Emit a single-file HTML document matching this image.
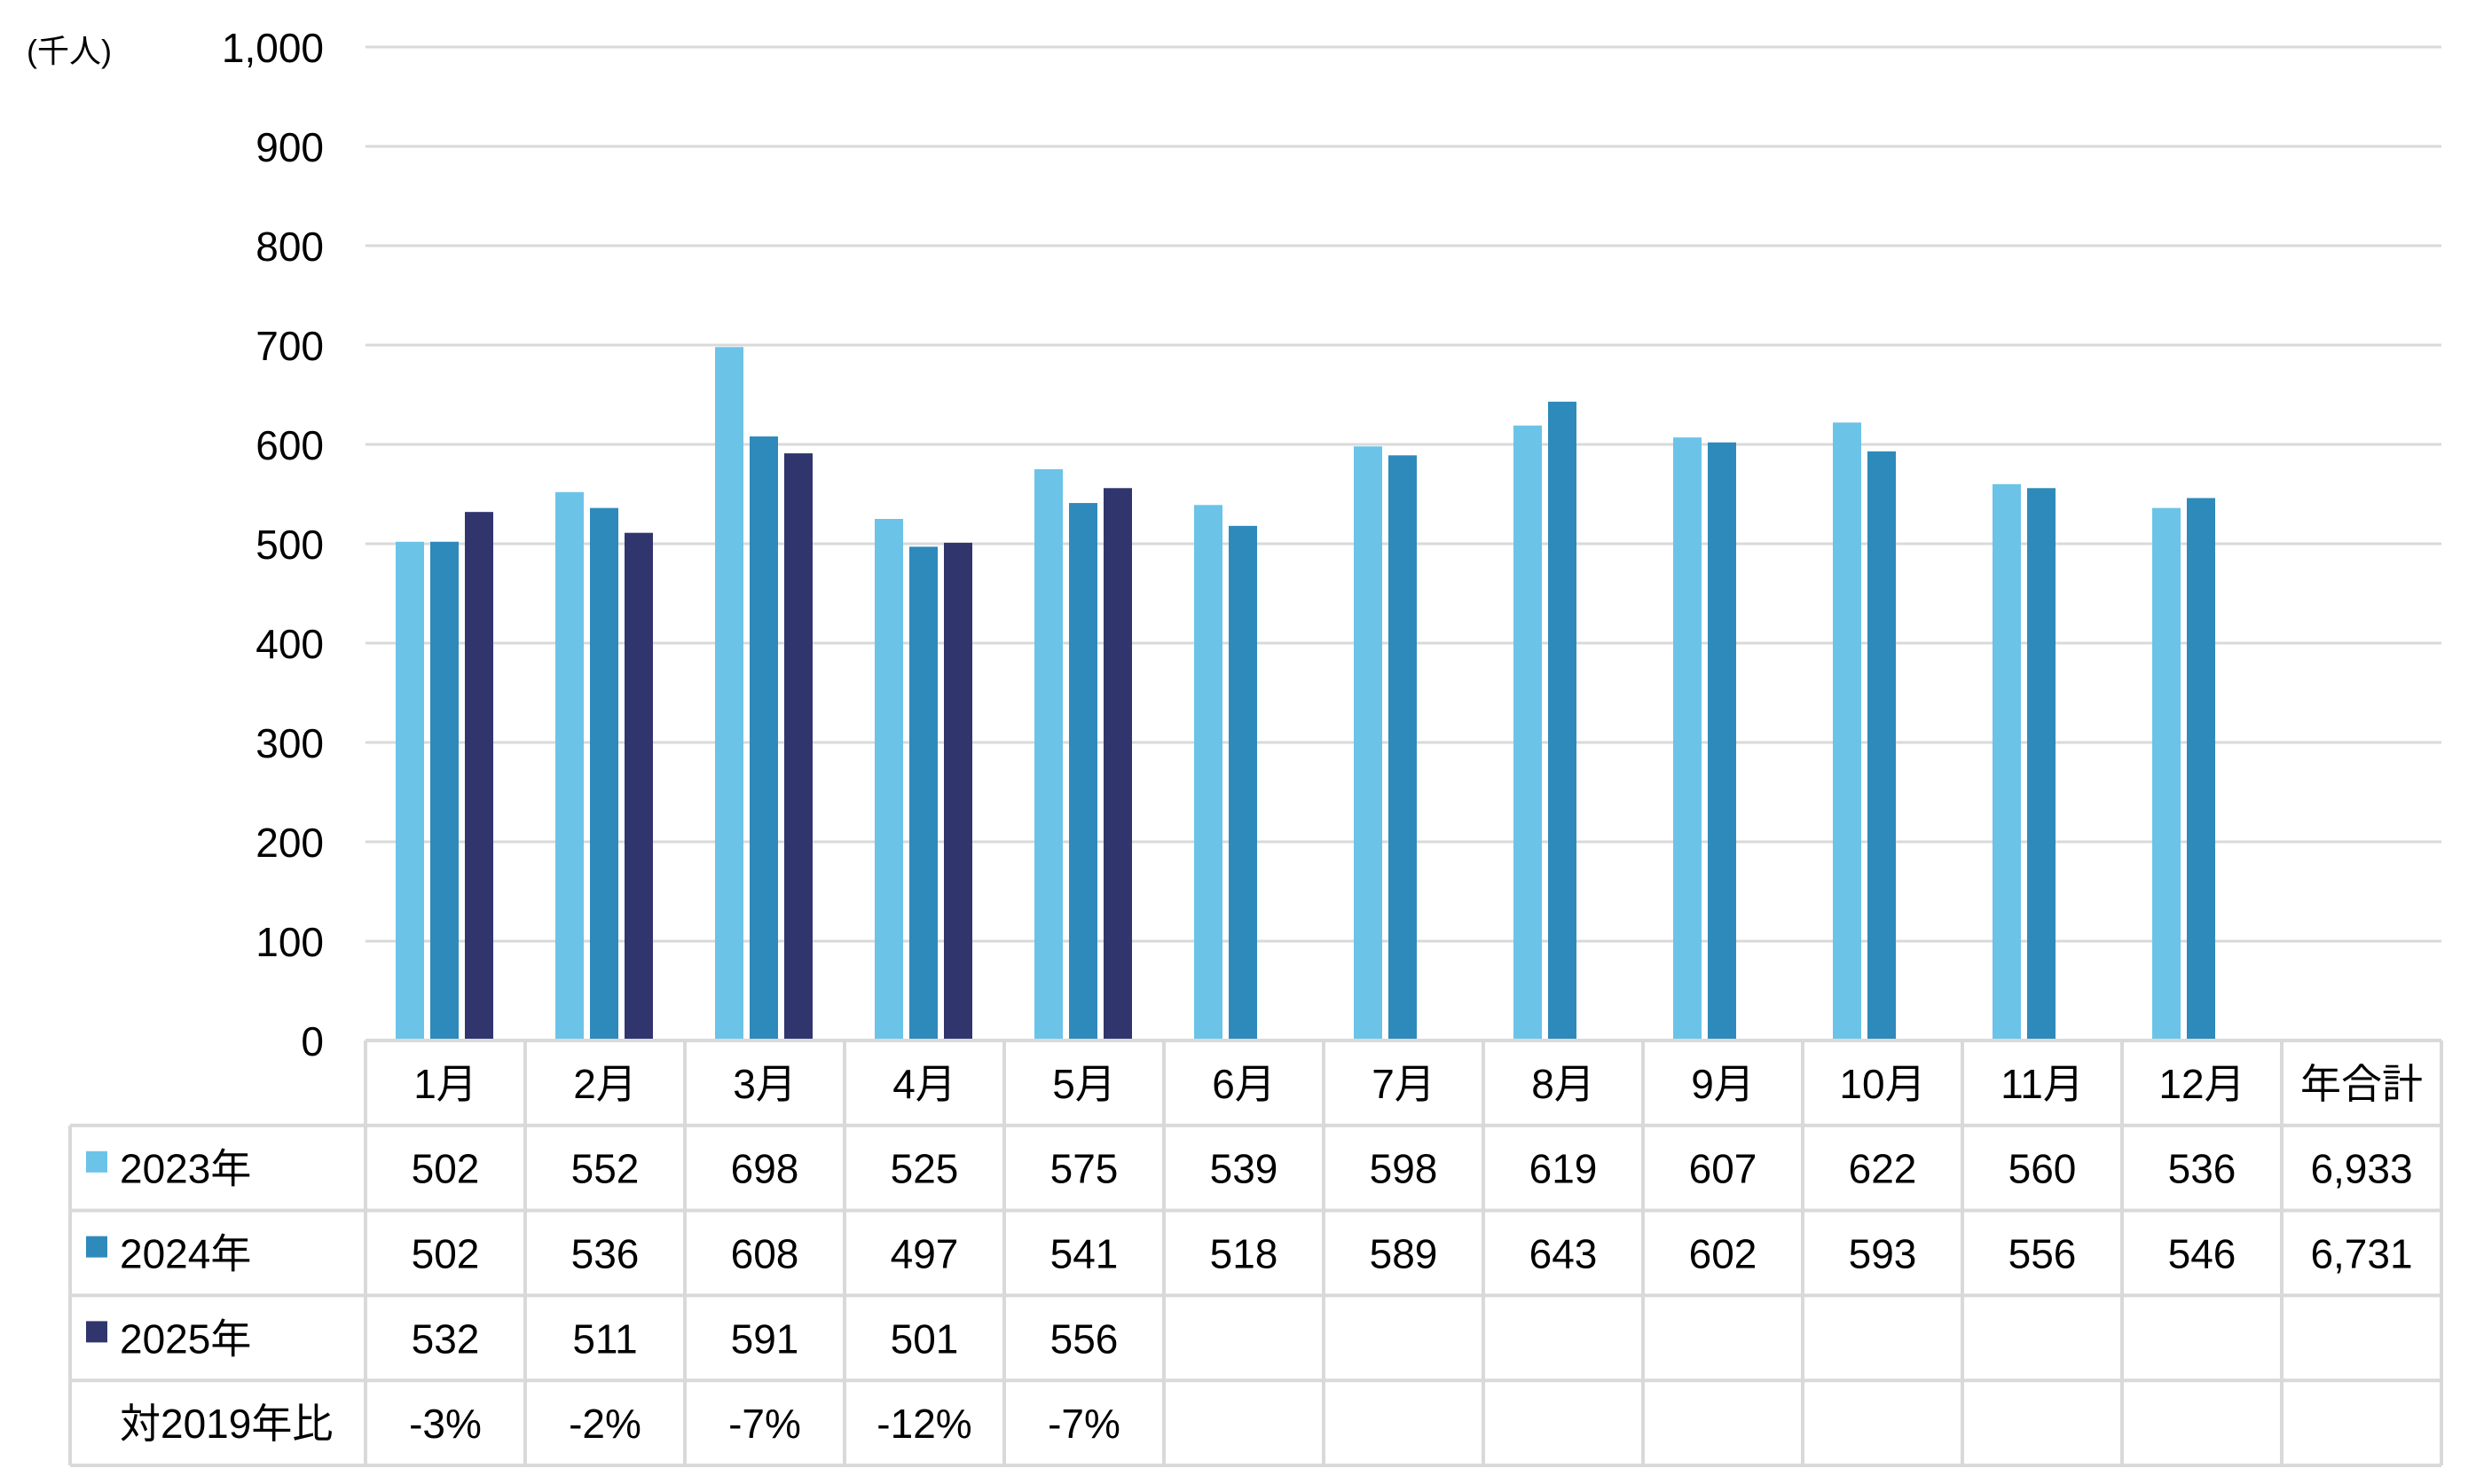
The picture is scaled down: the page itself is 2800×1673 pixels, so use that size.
<!DOCTYPE html>
<html><head><meta charset="utf-8"><style>
html,body{margin:0;padding:0;background:#fff}
svg{display:block}
text{font-family:"Liberation Sans","Noto Sans CJK JP",sans-serif;fill:#000}
</style></head><body>
<svg id="chart" width="2800" height="1673" viewBox="0 0 2800 1673" xmlns="http://www.w3.org/2000/svg">
<g id="grid"></g>
<g id="yticks"></g>
<text x="30" y="70" font-size="36">(千人)</text>
<g id="bars"></g>
<g id="table"></g>
</svg>
<script>
const categories = ["1月","2月","3月","4月","5月","6月","7月","8月","9月","10月","11月","12月"];
const seriesNames = ["2023年","2024年","2025年"];
const s2023 = [502,552,698,525,575,539,598,619,607,622,560,536];
const s2024 = [502,536,608,497,541,518,589,643,602,593,556,546];
const s2025 = [532,511,591,501,556];
const totals2023 = "6,933";
const totals2024 = "6,731";
const ratio2019 = ["-3%","-2%","-7%","-12%","-7%"];
const yTicks = [0,100,200,300,400,500,600,700,800,900,1000];
const totalLabel = "年合計";
const ratioLabel = "対2019年比";

const NS="http://www.w3.org/2000/svg";
const colors=["#6cc3e8","#2e8aba","#31356e"];
const plotL=412, plotR=2752, y0=1173, yTop=53, yMax=1000;
const colW=180, tableL=79, tableTop=1173, rowH=95.8;
function y(v){return y0-(v/yMax)*(y0-yTop);}
function cx(i){return plotL+i*colW;}
function mk(tag,attrs,parent){const e=document.createElementNS(NS,tag);for(const k in attrs)e.setAttribute(k,attrs[k]);parent.appendChild(e);return e;}
const grid=document.getElementById('grid'), yt=document.getElementById('yticks'), bars=document.getElementById('bars'), tbl=document.getElementById('table');
yTicks.forEach(v=>{
  if(v>0){const l=mk('line',{x1:plotL,x2:plotR,y1:y(v),y2:y(v),stroke:'#d9d9d9','stroke-width':3},grid);
  
  }
  const t=mk('text',{x:365,y:y(v)+17,'font-size':46,'text-anchor':'end'},yt);
  t.textContent=v.toLocaleString('en-US');
  
  
});
const series=[s2023,s2024,s2025];
series.forEach((s,si)=>{
  s.forEach((v,i)=>{
    const r=mk('rect',{x:cx(i)+34+si*39,y:y(v),width:32,height:y0-y(v),fill:colors[si]},bars);
    
    
  });
});
// table lines
const stroke='#d9d9d9', sw=4;
const tableR=cx(13);
const rowsY=[0,1,2,3,4,5].map(k=>tableTop+k*rowH);
// horizontal
rowsY.forEach((ry,k)=>{
  const ln=mk('line',{x1:k===0?plotL:tableL,x2:tableR,y1:ry,y2:ry,stroke:stroke,'stroke-width':sw},tbl);
  
  
});
// vertical
const vl=mk('line',{x1:tableL,x2:tableL,y1:rowsY[1],y2:rowsY[5],stroke:stroke,'stroke-width':sw},tbl);


for(let i=0;i<=13;i++){
  const l=mk('line',{x1:cx(i),x2:cx(i),y1:tableTop,y2:rowsY[5],stroke:stroke,'stroke-width':sw},tbl);
  
  
}
function cell(txt,i,row,name){
  const t=mk('text',{x:cx(i)+colW/2,y:rowsY[row]+rowH/2+17,'font-size':46,'text-anchor':'middle'},tbl);
  t.textContent=txt;
  
  
}
categories.forEach((c,i)=>cell(c,i,0,'category-label'));
cell(totalLabel,12,0,'total-header');
series.forEach((s,si)=>s.forEach((v,i)=>cell(String(v),i,si+1,'table-value')));
cell(totals2023,12,1,'total-2023');
cell(totals2024,12,2,'total-2024');
ratio2019.forEach((v,i)=>cell(v,i,4,'ratio-value'));
seriesNames.forEach((n,si)=>{
  const sq=mk('rect',{x:97,y:rowsY[si+1]+29,width:24,height:24,fill:colors[si]},tbl);
  
  
  const t=mk('text',{x:135,y:rowsY[si+1]+rowH/2+17,'font-size':46},tbl);
  t.textContent=n;
  
  
});
const rl=mk('text',{x:135,y:rowsY[4]+rowH/2+17,'font-size':46},tbl);
rl.textContent=ratioLabel;


</script>
</body></html>
